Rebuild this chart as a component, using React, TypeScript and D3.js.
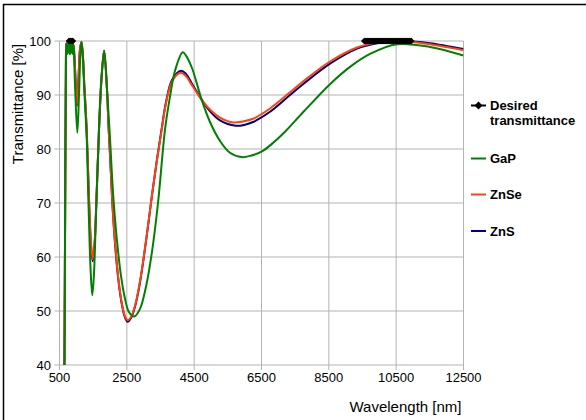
import React from "react";
import * as d3 from "d3";

// Axis ticks
const wavelengthTicks = [500, 2500, 4500, 6500, 8500, 10500, 12500];
const transmittanceTicks = [40, 50, 60, 70, 80, 90, 100];

// Desired transmittance windows (two bands, separated by a gap)
const desiredWavelength = [
  780, 800, 820, 840, 860, 880, 900, NaN,
  9550, 9575, 9600, 9625, 9650, 9675, 9700, 9725, 9750, 9775, 9800, 9825, 9850, 9875, 9900, 9925, 9950, 9975,
  10000, 10025, 10050, 10075, 10100, 10125, 10150, 10175, 10200, 10225, 10250, 10275, 10300, 10325, 10350, 10375,
  10400, 10425, 10450, 10475, 10500, 10525, 10550, 10575, 10600, 10625, 10650, 10675, 10700, 10725, 10750, 10775,
  10800, 10825, 10850, 10875, 10900, 10925, 10950,
];
const desiredT = desiredWavelength.map((w) => (Number.isNaN(w) ? NaN : 100));

// GaP
const gapWavelength = [628, 651, 672, 690, 702, 741, 776, 812, 848, 883, 916, 960, 1029, 1079, 1124, 1153, 1198, 1228, 1308, 1361, 1421, 1474, 1525, 1584, 1658, 1733, 1831, 1911, 2000, 2089, 2208, 2327, 2445, 2564, 2722, 2891, 3069, 3248, 3426, 3634, 3782, 3931, 4159, 4257, 4435, 4724, 4970, 5267, 5564, 5912, 6200, 6500, 6800, 7198, 7733, 8535, 9129, 9723, 10525, 11505, 12500];
const gapT = [20, 45, 75, 95, 99.6, 97.6, 99.8, 97.5, 99.8, 97.6, 99.3, 92, 83, 90, 98, 99.8, 96.5, 92, 82, 70, 58, 52.9, 57, 68, 81, 92, 98.2, 91, 82, 72, 63, 56.5, 52.3, 49.8, 49.0, 50.4, 54.5, 61, 70, 83.6, 89.7, 94.5, 97.9, 97.3, 95, 89.1, 85, 81.5, 79.3, 78.5, 78.8, 79.5, 80.9, 83.2, 86.8, 92.0, 95.2, 97.6, 99.4, 98.9, 97.3];

// ZnSe
const znseWavelength = [628, 651, 672, 690, 702, 741, 776, 812, 848, 883, 916, 960, 1020, 1064, 1109, 1153, 1198, 1228, 1308, 1376, 1436, 1486, 1540, 1599, 1673, 1748, 1822, 1911, 1950, 2000, 2089, 2178, 2267, 2356, 2445, 2526, 2624, 2743, 2891, 3069, 3248, 3396, 3536, 3664, 3842, 4094, 4257, 4435, 4724, 4970, 5267, 5662, 5951, 6248, 6753, 7347, 7733, 8535, 9337, 9931, 10466, 11000, 11505, 12500];
const znseT = [20, 45, 75, 95, 99.6, 97.8, 99.8, 97.7, 99.8, 97.8, 99.4, 95, 88.2, 93, 98.5, 99.8, 97, 93, 83.6, 71, 62.5, 59.6, 62.5, 71, 83.6, 93, 98.2, 91, 85, 79, 68, 60.5, 55, 51.3, 49, 48.3, 48.9, 51, 55.5, 63, 71.5, 78, 83.6, 88.5, 92.5, 94.1, 93.5, 91.8, 89.1, 87.3, 85.8, 84.9, 85.1, 85.6, 87.5, 90.5, 92.5, 96.2, 98.8, 99.7, 100, 99.8, 99.4, 98.3];

// ZnS
const znsWavelength = [628, 651, 672, 690, 702, 741, 776, 812, 848, 883, 916, 960, 1020, 1064, 1109, 1153, 1198, 1228, 1308, 1376, 1436, 1486, 1540, 1599, 1673, 1748, 1822, 1911, 1950, 2000, 2089, 2178, 2267, 2356, 2445, 2526, 2624, 2743, 2891, 3069, 3248, 3396, 3536, 3664, 3842, 4109, 4257, 4435, 4724, 4970, 5267, 5733, 6010, 6248, 6753, 7347, 7733, 8535, 9337, 9931, 10614, 11000, 11505, 12500];
const znsT = [20, 45, 75, 95, 99.6, 97.8, 99.8, 97.7, 99.8, 97.8, 99.4, 95, 88, 93, 98.5, 99.8, 97, 93, 83.4, 70.6, 62.2, 59.2, 62.2, 70.8, 83.5, 93, 98.2, 91, 85, 79, 68, 60.3, 54.8, 51.1, 48.8, 48.0, 48.7, 50.8, 55.3, 62.9, 71.5, 78.1, 83.8, 88.7, 92.8, 94.5, 93.9, 92.1, 89.1, 87.0, 85.3, 84.3, 84.5, 85.0, 86.9, 90.0, 92.0, 95.8, 98.6, 99.6, 100, 99.9, 99.6, 98.5];

const seriesNames = ["GaP", "ZnSe", "ZnS"];
const seriesColors = ["#008000", "#ff420e", "#000080"];

const W = 586;
const H = 420;
const plot = { left: 59.5, right: 463.5, top: 41, bottom: 365 };
const FONT = "'Liberation Sans', Arial, sans-serif";

type Pt = { x: number; y: number };
const zip = (xs: number[], ys: number[]): Pt[] => xs.map((x, i) => ({ x, y: ys[i] }));

export default function App() {
  const x = d3.scaleLinear().domain([500, 12500]).range([plot.left, plot.right]);
  const y = d3.scaleLinear().domain([40, 100]).range([plot.bottom, plot.top]);

  const makeLine = (curve: d3.CurveFactory) =>
    d3
      .line<Pt>()
      .defined((d) => !Number.isNaN(d.x) && !Number.isNaN(d.y))
      .x((d) => x(d.x))
      .y((d) => y(d.y))
      .curve(curve);

  const seriesLine = makeLine(d3.curveCatmullRom.alpha(0.5));
  const flatLine = makeLine(d3.curveLinear);

  const curves = [zip(gapWavelength, gapT), zip(znseWavelength, znseT), zip(znsWavelength, znsT)];
  const desired = zip(desiredWavelength, desiredT);
  const drawOrder = [2, 1, 0];

  const diamond = (cx: number, cy: number, r: number) =>
    `M${cx},${cy - r}L${cx + r},${cy}L${cx},${cy + r}L${cx - r},${cy}Z`;

  const legendRows = [
    { label: ["Desired", "transmittance"], y: 105.5, color: "#000", marker: true },
    { label: [seriesNames[0]], y: 158.5, color: seriesColors[0], marker: false },
    { label: [seriesNames[1]], y: 194.5, color: seriesColors[1], marker: false },
    { label: [seriesNames[2]], y: 231, color: seriesColors[2], marker: false },
  ];

  return (
    <svg
      width={W}
      height={H}
      style={{ position: "absolute", left: 0, top: 0, background: "#fff" }}
      fontFamily={FONT}
    >
      <rect x={0} y={0} width={W} height={H} fill="#fff" />
      <rect x={3.5} y={4.5} width={W + 20} height={H + 20} fill="none" stroke="#000" strokeWidth={1.5} />
      <defs>
        <clipPath id="plotClip">
          <rect x={plot.left} y={plot.top - 4} width={plot.right - plot.left} height={plot.bottom - plot.top + 4} />
        </clipPath>
      </defs>

      {/* grid */}
      <g stroke="#b3b3b3" strokeWidth={1}>
        {transmittanceTicks.map((t) => (
          <line key={"gy" + t} x1={plot.left - 5} x2={plot.right} y1={y(t)} y2={y(t)} />
        ))}
        {wavelengthTicks.map((w) => (
          <line key={"gx" + w} x1={x(w)} x2={x(w)} y1={plot.top} y2={plot.bottom + 5} />
        ))}
      </g>

      {/* tick labels */}
      <g fontSize={13} fill="#000">
        {transmittanceTicks.map((t) => (
          <text key={"ly" + t} x={51} y={y(t) + 4.5} textAnchor="end">
            {t}
          </text>
        ))}
        {wavelengthTicks.map((w) => (
          <text key={"lx" + w} x={x(w)} y={382} textAnchor="middle">
            {w}
          </text>
        ))}
      </g>

      {/* axis titles */}
      <text x={461.5} y={412} textAnchor="end" fontSize={15} fill="#000">
        Wavelength [nm]
      </text>
      <text transform={`translate(23,104) rotate(-90)`} textAnchor="middle" fontSize={15} fill="#000">
        Transmittance [%]
      </text>

      {/* series */}
      <g clipPath="url(#plotClip)" fill="none" strokeWidth={2} strokeLinejoin="round">
        {drawOrder.map((i) => (
          <path key={seriesNames[i]} d={seriesLine(curves[i]) ?? ""} stroke={seriesColors[i]} />
        ))}
      </g>
      <path d={flatLine(desired) ?? ""} fill="none" stroke="#000" strokeWidth={2} />
      <g fill="#000">
        {desired
          .filter((d) => !Number.isNaN(d.x))
          .map((d, i) => (
            <path key={"dm" + i} d={diamond(x(d.x), y(d.y), 3.2)} />
          ))}
      </g>

      {/* legend */}
      <g fontSize={13} fontWeight="bold" fill="#000">
        {legendRows.map((r) => (
          <g key={r.label[0]}>
            <line x1={471} x2={486} y1={r.y} y2={r.y} stroke={r.color} strokeWidth={2} />
            {r.marker && <path d={diamond(478.5, r.y, 4)} fill="#000" />}
            {r.label.map((s, k) => (
              <text key={s} x={490} y={r.y + 4.6 + k * 15}>
                {s}
              </text>
            ))}
          </g>
        ))}
      </g>
    </svg>
  );
}
